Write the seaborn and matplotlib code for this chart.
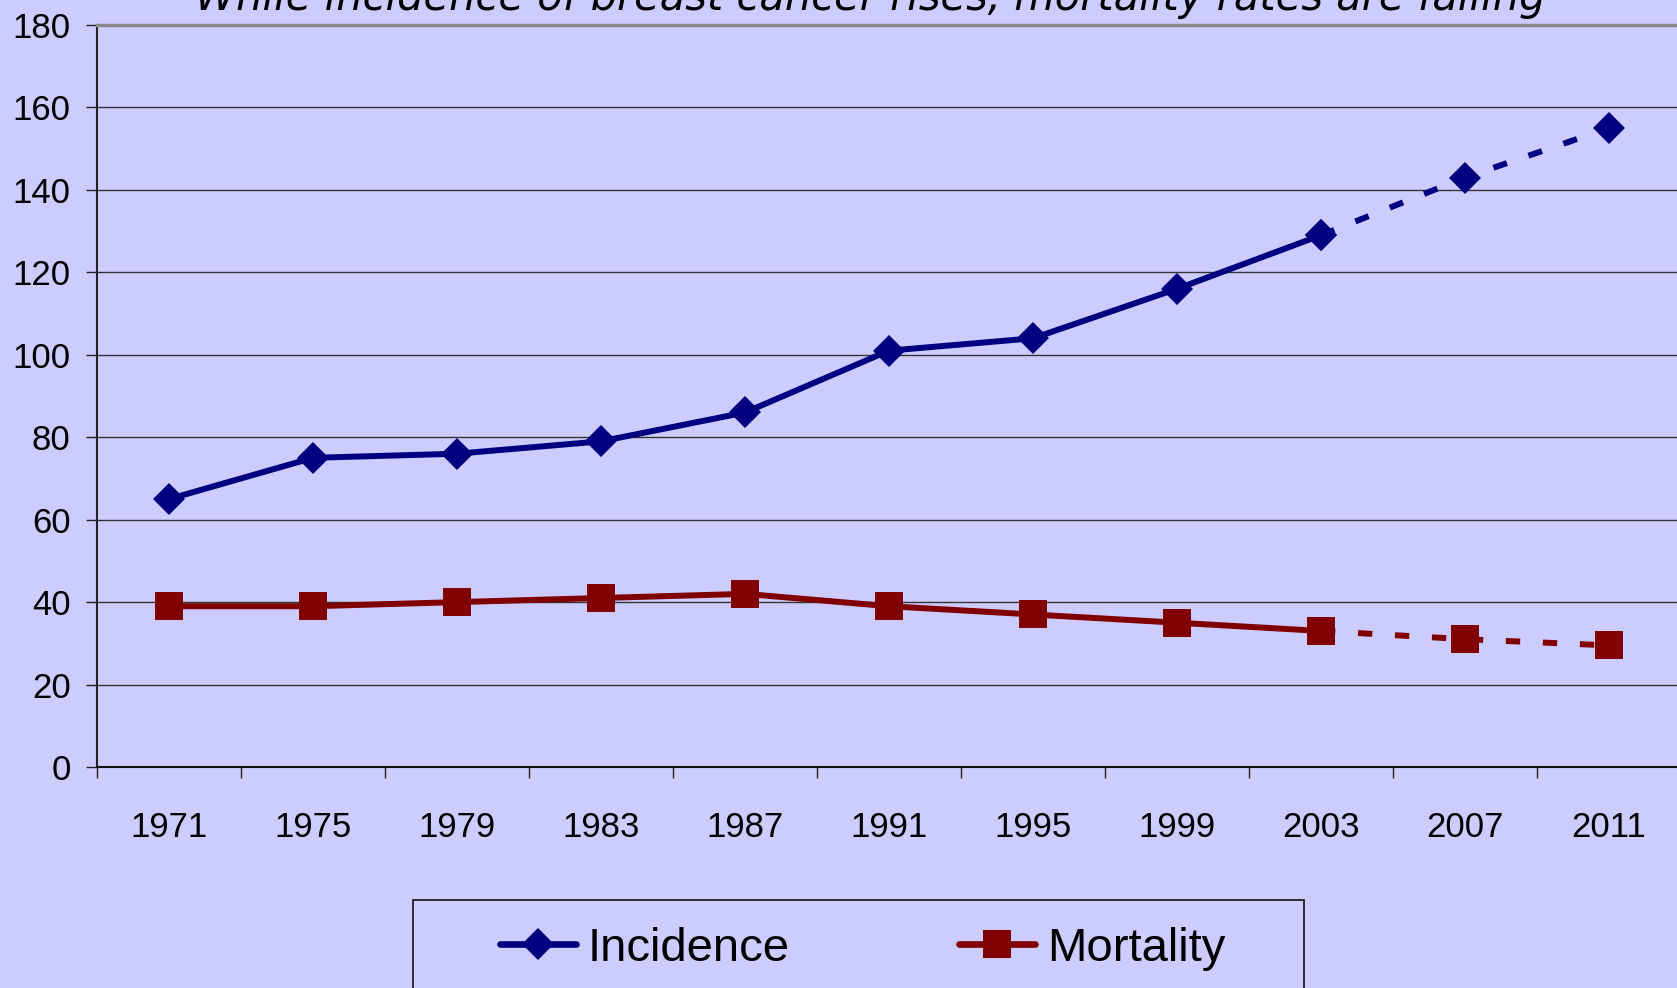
import pandas as pd
import matplotlib.pyplot as plt
import seaborn as sns
from matplotlib.lines import Line2D
from matplotlib.patches import Rectangle

years = [1971, 1975, 1979, 1983, 1987, 1991, 1995, 1999, 2003, 2007, 2011]
incidence = [65, 75, 76, 79, 86, 101, 104, 116, 129, 143, 155]
mortality = [39, 39, 40, 41, 42, 39, 37, 35, 33, 31, 29.5]
last_actual = 2003
title = 'While incidence of breast cancer rises, mortality rates are falling'

BG = '#CCCCFF'
NAVY = '#000080'
MAROON = '#800000'

df = pd.DataFrame({'year': years, 'Incidence': incidence, 'Mortality': mortality})
actual = df[df['year'] <= last_actual]
projected = df[df['year'] >= last_actual]

sns.set_style('white')
plt.rcParams['font.family'] = ['Liberation Sans', 'DejaVu Sans']
plt.rcParams['text.color'] = 'black'
plt.rcParams['xtick.color'] = 'black'
plt.rcParams['ytick.color'] = 'black'

fig = plt.figure(figsize=(16.77, 9.88), dpi=100)
fig.patch.set_facecolor(BG)
ax = fig.add_axes([97 / 1677, 221 / 988, 1584 / 1677, 742 / 988])
ax.set_facecolor(BG)

series = [('Incidence', NAVY, 'D', 16.5), ('Mortality', MAROON, 's', 20.5)]
for name, color, marker, ms in series:
    sns.lineplot(data=actual, x='year', y=name, ax=ax, color=color, linewidth=4.3,
                 marker=marker, markersize=ms, markeredgewidth=0, zorder=3)
    sns.lineplot(data=projected, x='year', y=name, ax=ax, color=color, linewidth=4.3,
                 marker=marker, markersize=ms, markeredgewidth=0, zorder=3)
    ax.lines[-1].set_dashes([2.4, 3.8])
    ax.lines[-1].set_dash_capstyle('butt')

ax.set_xlim(1969, 2013)
ax.set_ylim(0, 180)
ax.set_yticks(range(0, 181, 20))
ax.set_xticks(years)
ax.set_xticklabels([str(y) for y in years])
ax.set_xticks([y - 2 for y in years] + [2013], minor=True)
ax.tick_params(axis='x', which='major', length=0, pad=32, labelsize=25, labelcolor='black')
ax.tick_params(axis='x', which='minor', length=8, width=1, color='#222222', direction='out', bottom=True)
ax.tick_params(axis='y', length=8, width=1, color='#222222', direction='out', pad=11,
               labelsize=25, labelcolor='black', left=True)
ax.yaxis.grid(True, color='#333333', linewidth=1)
ax.xaxis.grid(False)
ax.set_axisbelow(True)
ax.set_xlabel('')
ax.set_ylabel('')

ax.spines['left'].set_color('#222222')
ax.spines['left'].set_linewidth(1.5)
ax.spines['bottom'].set_color('#111111')
ax.spines['bottom'].set_linewidth(1.5)
ax.spines['top'].set_color('#888888')
ax.spines['top'].set_linewidth(2.5)
ax.spines['right'].set_visible(False)

fig.text(0.519, 1 - 10 / 988, title, ha='center', va='baseline', fontsize=30,
         style='italic', family=['DejaVu Sans'], color='black')

fig.add_artist(Rectangle((413 / 1677, -0.05), (1304 - 413) / 1677, 0.05 + 1 - 900 / 988,
                         transform=fig.transFigure, facecolor='none', edgecolor='#111111',
                         linewidth=1.2))
handles = [Line2D([], [], color=c, lw=4.8, marker=m, markersize=ms, markeredgewidth=0)
           for _, c, m, ms in series]
fig.legend(handles, [s[0] for s in series], loc='center left',
           bbox_to_anchor=(500 / 1677, 1 - 949 / 988), frameon=False, ncol=2,
           fontsize=34, handlelength=1.6, handletextpad=0.25, columnspacing=3.6,
           borderpad=0, borderaxespad=0, labelcolor='black')

plt.savefig('out.png', dpi=100, facecolor=BG)
